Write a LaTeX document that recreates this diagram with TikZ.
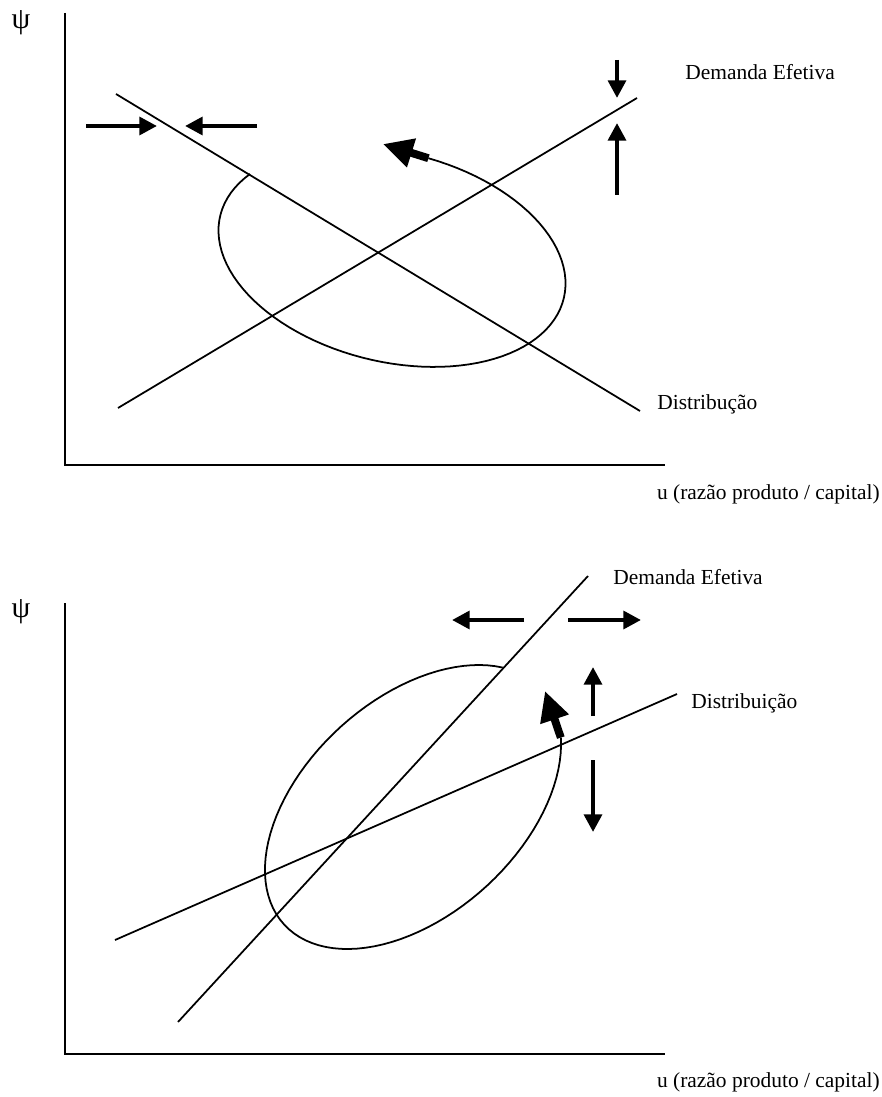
\documentclass[tikz,border=0pt]{standalone}
\usepackage{fontspec}
\setmainfont{Liberation Serif}
\usepackage{tikz}
\usetikzlibrary{arrows.meta}

\begin{document}
\begin{tikzpicture}[x=0.02cm,y=-0.02cm,
  eixo/.style={line width=1pt},
  reta/.style={line width=1pt},
  curva/.style={line width=1pt},
  seta/.style={line width=2.4pt,-{Triangle[length=10pt,width=10pt]}},
  setagrossa/.style={line width=4.5pt,-{Triangle[length=17pt,width=16pt]}},
  rotulo/.style={inner sep=0pt,font=\fontsize{12.2}{14}\selectfont},
  letra/.style={inner sep=0pt,font=\fontsize{17}{20}\selectfont}]
\useasboundingbox (0,0) rectangle (881,1097);
% painel de cima
\coordinate (O1) at (65,465);
\coordinate (Y1) at (65,13);
\coordinate (X1) at (665,465);
\draw[eixo] (Y1)--(O1)--(X1);
\node[letra] (psi1) at (21,23) {ψ};
\node[rotulo,anchor=base east] (u1) at (880,499) {u (razão produto / capital)};
\coordinate (Da1) at (116,94);
\coordinate (Db1) at (640,411);
\coordinate (Ea1) at (118,408);
\coordinate (Eb1) at (637,98);
\draw[reta] (Da1)--(Db1);
\draw[reta] (Ea1)--(Eb1);
\node[rotulo,anchor=base west] (dist1) at (657,410) {Distribução};
\node[rotulo,anchor=base west] (dem1) at (685,80) {Demanda Efetiva};
\coordinate (h1a) at (86,126);
\coordinate (h1b) at (157,126);
\coordinate (h2a) at (257,126);
\coordinate (h2b) at (185,126);
\draw[seta] (h1a)--(h1b);
\draw[seta] (h2a)--(h2b);
\coordinate (v1a) at (617,60);
\coordinate (v1b) at (617,98);
\coordinate (v2a) at (617,195);
\coordinate (v2b) at (617,123);
\draw[seta] (v1a)--(v1b);
\draw[seta] (v2a)--(v2b);
\draw[curva] plot[variable=\t,domain=207:-86,samples=90]
  ({392+171.8*cos(\t)-24.46*sin(\t)},{257+41.24*cos(\t)+101.9*sin(\t)});
\coordinate (g1a) at (428.4,158.2);
\coordinate (g1b) at (383,144);
\draw[setagrossa] (g1a)--(g1b);
% painel de baixo
\coordinate (O2) at (65,1054);
\coordinate (Y2) at (65,603);
\coordinate (X2) at (665,1054);
\draw[eixo] (Y2)--(O2)--(X2);
\node[letra] (psi2) at (21,612) {ψ};
\node[rotulo,anchor=base east] (u2) at (880,1087) {u (razão produto / capital)};
\coordinate (Da2) at (115,940);
\coordinate (Db2) at (677,694);
\coordinate (Ea2) at (178,1022);
\coordinate (Eb2) at (588,576);
\draw[reta] (Da2)--(Db2);
\draw[reta] (Ea2)--(Eb2);
\node[rotulo,anchor=base west] (dist2) at (691,708) {Distribuição};
\node[rotulo,anchor=base west] (dem2) at (613,584) {Demanda Efetiva};
\coordinate (h3a) at (524,620);
\coordinate (h3b) at (452,620);
\coordinate (h4a) at (568,620);
\coordinate (h4b) at (641,620);
\draw[seta] (h3a)--(h3b);
\draw[seta] (h4a)--(h4b);
\coordinate (v3a) at (593,716);
\coordinate (v3b) at (593,667);
\coordinate (v4a) at (593,760);
\coordinate (v4b) at (593,832);
\draw[seta] (v3a)--(v3b);
\draw[seta] (v4a)--(v4b);
\draw[curva] plot[variable=\t,domain=-23.3:-333.5,samples=90]
  ({413+129.0*cos(\t)+72.7*sin(\t)},{807-117.4*cos(\t)+79.9*sin(\t)});
\coordinate (g2a) at (560.8,737.6);
\coordinate (g2b) at (545,691);
\draw[setagrossa] (g2a)--(g2b);
\end{tikzpicture}
\end{document}
